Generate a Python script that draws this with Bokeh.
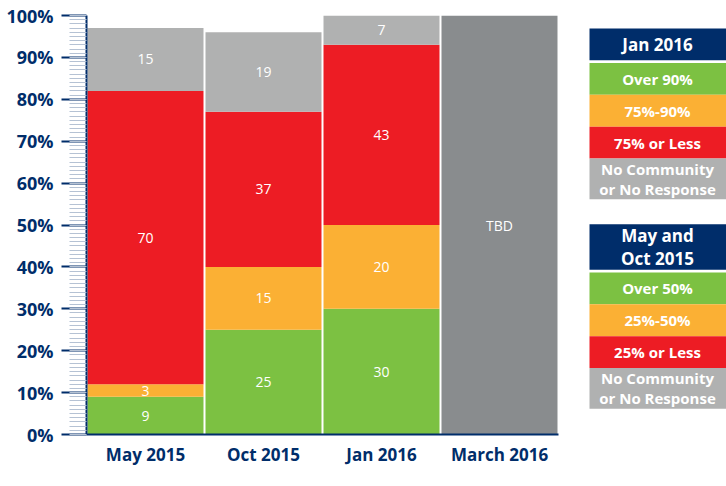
from bokeh.plotting import figure
from bokeh.layouts import row
from bokeh.models import ColumnDataSource, FactorRange, Range1d, SingleIntervalTicker
from bokeh.core.properties import value
from bokeh.embed import file_html
from bokeh.resources import INLINE

# ---- data ----
periods = ["May 2015", "Oct 2015", "Jan 2016", "March 2016"]
high = [9, 25, 30, 0]
mid = [3, 15, 20, 0]
low = [70, 37, 43, 0]
no_resp = [15, 19, 7, 0]
tbd = [0, 0, 0, 100]
tbd_label = "TBD"

y_ticks = [0, 10, 20, 30, 40, 50, 60, 70, 80, 90, 100]

legend1_title = "Jan 2016"
legend1_labels = ["Over 90%", "75%-90%", "75% or Less", "No Community\nor No Response"]
legend2_title = "May and\nOct 2015"
legend2_labels = ["Over 50%", "25%-50%", "25% or Less", "No Community\nor No Response"]

# ---- style ----
GREEN = "#7cc142"
ORANGE = "#fbb034"
RED = "#ed1c24"
GRAY = "#b0b1b1"
DARK_GRAY = "#898c8e"
NAVY = "#002d6a"
FONT = "Open Sans"

series = [("high", high, GREEN), ("mid", mid, ORANGE), ("low", low, RED),
          ("no_resp", no_resp, GRAY), ("tbd", tbd, DARK_GRAY)]

p = figure(width=580, height=486, x_range=FactorRange(*periods, range_padding=0),
           y_range=Range1d(0, 100), output_backend="svg", toolbar_location=None,
           min_border_left=86, min_border_right=22, min_border_top=15, min_border_bottom=52)
p.outline_line_color = None
p.xgrid.grid_line_color = None
p.ygrid.grid_line_color = None
p.background_fill_color = "white"

bottom = [0.0] * len(periods)
lab_x, lab_y, lab_t = [], [], []
for name, vals, color in series:
    top = [b + v for b, v in zip(bottom, vals)]
    src = ColumnDataSource(dict(x=periods, bottom=bottom, top=top))
    p.vbar(x="x", bottom="bottom", top="top", width=0.983, source=src,
           fill_color=color, line_color=None)
    for per, b, v in zip(periods, bottom, vals):
        if v > 0:
            lab_x.append(per)
            lab_y.append(b + v / 2)
            lab_t.append(tbd_label if name == "tbd" else str(v))
    bottom = top

p.text(x=lab_x, y=lab_y, text=lab_t, text_color="white", text_align="center",
       text_baseline="middle", text_font=value(FONT), text_font_size="14px")

# y axis
ya = p.yaxis[0]
ya.ticker = SingleIntervalTicker(interval=10, num_minor_ticks=10)
ya.major_label_overrides = {t: f"{t}%" for t in y_ticks}
ya.axis_line_color = NAVY
ya.axis_line_width = 2
ya.major_tick_line_color = NAVY
ya.major_tick_line_width = 2
ya.major_tick_out = 25
ya.major_tick_in = 0
ya.minor_tick_line_color = "#b5c2d4"
ya.minor_tick_line_width = 1
ya.minor_tick_out = 17
ya.minor_tick_in = 0
ya.major_label_standoff = 8
ya.major_label_text_font = FONT
ya.major_label_text_font_style = "bold"
ya.major_label_text_font_size = "18px"
ya.major_label_text_color = NAVY

xa = p.xaxis[0]
xa.axis_line_color = NAVY
xa.axis_line_width = 2
xa.major_tick_line_color = None
xa.minor_tick_line_color = None
xa.major_label_standoff = 2
xa.major_label_text_font = FONT
xa.major_label_text_font_style = "bold"
xa.major_label_text_font_size = "17px"
xa.major_label_text_color = NAVY

# ---- legend panel ----
lg = figure(width=146, height=486, x_range=Range1d(0, 146), y_range=Range1d(486, 0),
            output_backend="svg", toolbar_location=None, min_border=0)
lg.axis.visible = False
lg.grid.visible = False
lg.outline_line_color = None

colors = [GREEN, ORANGE, RED, GRAY]
blocks = [(legend1_title, legend1_labels, 15, 37), (legend2_title, legend2_labels, 242, 53)]
qs = dict(left=[], right=[], top=[], bottom=[], color=[])
ts = dict(x=[], y=[], text=[], size=[])
for title, labels, y0, hh in blocks:
    qs["left"].append(9); qs["right"].append(146); qs["top"].append(y0); qs["bottom"].append(y0 + hh)
    qs["color"].append(NAVY)
    ts["x"].append(77); ts["y"].append(y0 + hh / 2); ts["text"].append(title); ts["size"].append("17px")
    y = y0 + hh + 3
    for lab, col in zip(labels, colors):
        h = 47 if "\n" in lab else 37
        qs["left"].append(9); qs["right"].append(146); qs["top"].append(y); qs["bottom"].append(y + h)
        qs["color"].append(col)
        ts["x"].append(77); ts["y"].append(y + h / 2); ts["text"].append(lab); ts["size"].append("15px")
        y += h
lg.quad(left="left", right="right", top="top", bottom="bottom", fill_color="color",
        line_color=None, source=ColumnDataSource(qs))
lg.text(x="x", y="y", text="text", text_font_size="size", source=ColumnDataSource(ts),
        text_color="white", text_align="center", text_baseline="middle",
        text_font=value(FONT), text_font_style="bold", text_line_height=1.0)

layout = row(p, lg, spacing=0)
open("out.html", "w").write(file_html(layout, INLINE))
